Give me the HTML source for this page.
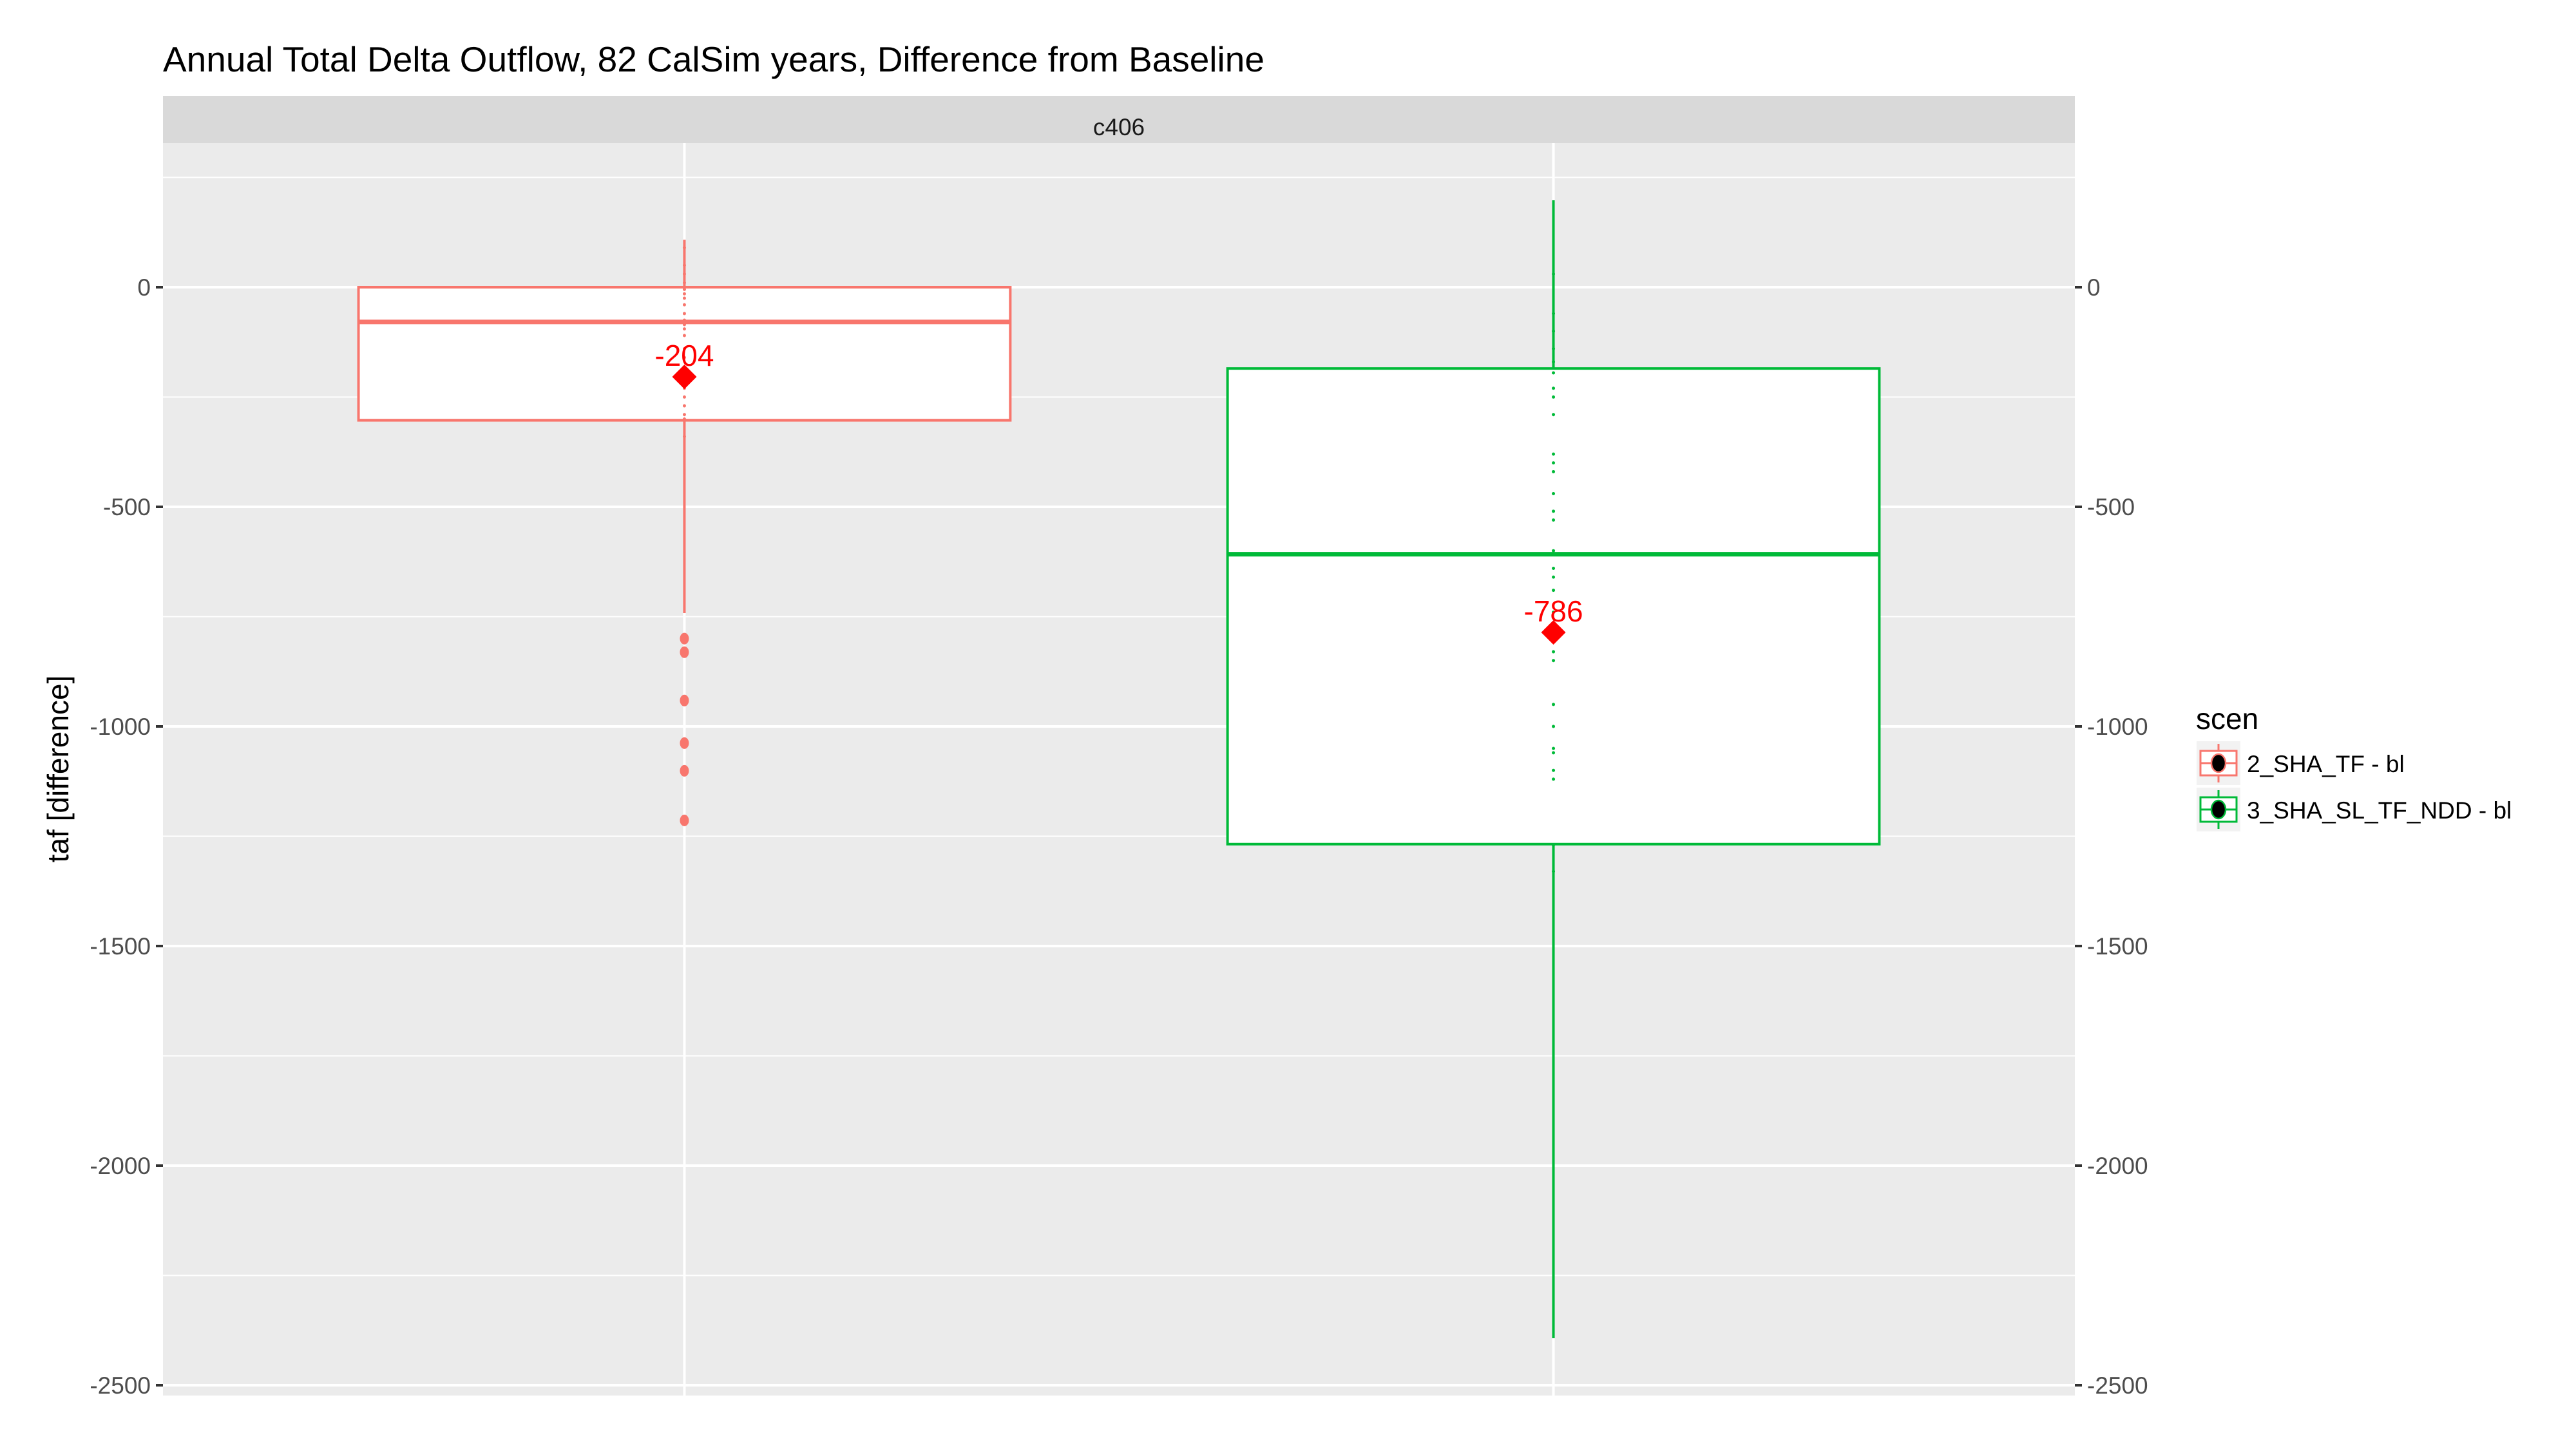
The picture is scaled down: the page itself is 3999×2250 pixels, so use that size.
<!DOCTYPE html>
<html><head><meta charset="utf-8"><style>
html,body{margin:0;padding:0;background:#fff;}
svg{display:block;font-family:"Liberation Sans",Arial,sans-serif;}
</style></head><body>
<svg id="chart" width="3999" height="2250" viewBox="0 0 3999 2250">
<text x="253" y="111" font-size="55" fill="#000">Annual Total Delta Outflow, 82 CalSim years, Difference from Baseline</text>
<rect x="253" y="149" width="2968" height="73" fill="#d9d9d9"/>
<text x="1737" y="210" font-size="37" fill="#1a1a1a" text-anchor="middle">c406</text>
<rect x="253" y="222" width="2968" height="1945" fill="#ebebeb"/>
<g id="grid"></g>
<g id="marks"></g>
<g id="axes"></g>
<text transform="translate(106,1194) rotate(-90)" font-size="46" text-anchor="middle" fill="#000">taf [difference]</text>
<g>
<text x="3409" y="1132" font-size="46" fill="#000">scen</text>
<g id="legend"></g>
</g>
</svg>
<script>
const categories = ["2_SHA_TF - bl", "3_SHA_SL_TF_NDD - bl"];
const colors = ["#F8766D", "#00BA38"];
const q1 = [-303, -1268];
const medians = [-79, -608];
const q3 = [0, -185];
const whiskerLow = [-742, -2393];
const whiskerHigh = [108, 198];
const means = [-204, -786];
const meanLabels = ["-204", "-786"];
const outliers = [[-800, -831, -941, -1038, -1101, -1214], []];
const jitterPts = [
  [90, 50, 30, 10, 0, -5, -15, -25, -40, -60, -75, -85, -95, -110, -140, -160, -230, -250, -270, -290, -300, -340],
  [30, -60, -100, -140, -170, -195, -230, -250, -290, -380, -400, -420, -470, -510, -530, -600, -640, -660, -690, -740, -770, -830, -850, -950, -1000, -1050, -1060, -1100, -1120, -1270, -1330]
];
const yTicks = [0, -500, -1000, -1500, -2000, -2500];
const yMinor = [250, -250, -750, -1250, -1750, -2250];

const NS = "http://www.w3.org/2000/svg";
const PX0 = 253, PX1 = 3221, PY0 = 222, PY1 = 2167;
const Y0PIX = 446, PPU = 0.682;
function y(v){ return Y0PIX - v * PPU; }
function x(i){ return PX0 + (i + 0.6) / 2.2 * (PX1 - PX0); }
const BW = 0.375 / 2.2 * (PX1 - PX0);
function mk(tag, attrs, parent){ const e = document.createElementNS(NS, tag); for (const k in attrs) e.setAttribute(k, attrs[k]); parent.appendChild(e); return e; }

const grid = document.getElementById('grid');
yMinor.forEach(v => { const l = mk('line', {x1:PX0, x2:PX1, y1:y(v), y2:y(v), stroke:'#fff', 'stroke-width':2}, grid);
  
   });
yTicks.forEach(v => { const l = mk('line', {x1:PX0, x2:PX1, y1:y(v), y2:y(v), stroke:'#fff', 'stroke-width':4}, grid);
  
   });
categories.forEach((c, i) => { const l = mk('line', {x1:x(i), x2:x(i), y1:PY0, y2:PY1, stroke:'#fff', 'stroke-width':4}, grid);
  
   });

const marks = document.getElementById('marks');
categories.forEach((c, i) => {
  const g = mk('g', {}, marks);
  
  
  const cx = x(i), col = colors[i];
  mk('line', {x1:cx, x2:cx, y1:y(whiskerHigh[i]), y2:y(q3[i]), stroke:col, 'stroke-width':4}, g);
  mk('line', {x1:cx, x2:cx, y1:y(q1[i]), y2:y(whiskerLow[i]), stroke:col, 'stroke-width':4}, g);
  mk('rect', {x:cx - BW, y:y(q3[i]), width:2 * BW, height:y(q1[i]) - y(q3[i]), fill:'#fff', stroke:col, 'stroke-width':4}, g);
  mk('line', {x1:cx - BW, x2:cx + BW, y1:y(medians[i]), y2:y(medians[i]), stroke:col, 'stroke-width':7}, g);
  outliers[i].forEach(v => { const o = mk('ellipse', {cx:cx, cy:y(v), rx:7, ry:9, fill:col}, g);
    
     });
  jitterPts[i].forEach(v => { const p = mk('circle', {cx:cx, cy:y(v), r:2.5, fill:col}, g);
    
     });
  const my = y(means[i]);
  const d = mk('polygon', {points:`${cx},${my-19} ${cx+19},${my} ${cx},${my+19} ${cx-19},${my}`, fill:'#f00'}, g);
  
  
  const t = mk('text', {x:cx, y:my - 17, 'font-size':46, fill:'#f00', 'text-anchor':'middle'}, g);
  
  
  t.textContent = meanLabels[i];
});

const axes = document.getElementById('axes');
yTicks.forEach(v => {
  const yy = y(v);
  mk('line', {x1:PX0 - 11, x2:PX0, y1:yy, y2:yy, stroke:'#333', 'stroke-width':4}, axes);
  mk('line', {x1:PX1, x2:PX1 + 11, y1:yy, y2:yy, stroke:'#333', 'stroke-width':4}, axes);
  const tl = mk('text', {x:PX0 - 19, y:yy + 13, 'font-size':37, fill:'#4d4d4d', 'text-anchor':'end'}, axes);
  
  
  tl.textContent = String(v);
  const tr = mk('text', {x:PX1 + 19, y:yy + 13, 'font-size':37, fill:'#4d4d4d'}, axes);
  
  
  tr.textContent = String(v);
});

const leg = document.getElementById('legend');
categories.forEach((c, i) => {
  const ky = 1151 + i * 72, kx = 3410;
  const g = mk('g', {}, leg);
  
  
  mk('rect', {x:kx, y:ky, width:68, height:68, fill:'#f2f2f2'}, g);
  mk('line', {x1:kx + 34, x2:kx + 34, y1:ky + 4, y2:ky + 64, stroke:colors[i], 'stroke-width':3}, g);
  mk('rect', {x:kx + 6, y:ky + 15, width:56, height:38, fill:'#fff', stroke:colors[i], 'stroke-width':3}, g);
  mk('line', {x1:kx + 6, x2:kx + 62, y1:ky + 34, y2:ky + 34, stroke:colors[i], 'stroke-width':3}, g);
  mk('ellipse', {cx:kx + 34, cy:ky + 34, rx:11, ry:14, fill:'#000', stroke:colors[i], 'stroke-width':2.5}, g);
  const t = mk('text', {x:3488, y:ky + 48, 'font-size':37, fill:'#000'}, g);
  
  
  t.textContent = c;
});
</script>
</body></html>
